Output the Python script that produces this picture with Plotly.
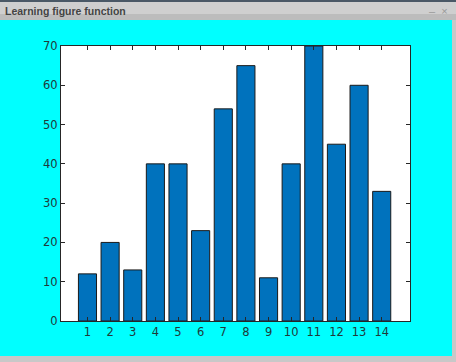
import plotly.graph_objects as go

categories = list(range(1, 15))
values = [12, 20, 13, 40, 40, 23, 54, 65, 11, 40, 70, 45, 60, 33]
y_ticks = [0, 10, 20, 30, 40, 50, 60, 70]
window_title = "Learning figure function"

W, H = 456, 362
L, R, T, B = 61, 410, 46, 321

def px(x):
    return (x - L) / (R - L)

def py(y):
    return (B - y) / (B - T)

fig = go.Figure()
fig.add_trace(go.Bar(
    x=categories, y=values, width=0.8,
    marker=dict(color="#0072BD", line=dict(color="#1a1a1a", width=1)),
))

axis_common = dict(
    showgrid=False, zeroline=False, showline=True, linecolor="#262626", linewidth=1,
    mirror="allticks", ticks="inside", ticklen=4, tickcolor="#262626",
    tickfont=dict(family="DejaVu Sans", size=11.5, color="#1f3a3a"),
)
fig.update_xaxes(range=[-0.17, 15.25], tickmode="array", tickvals=categories,
                 ticktext=[str(c) for c in categories], **axis_common)
fig.update_yaxes(range=[0, 70], tickmode="array", tickvals=y_ticks,
                 ticktext=[str(v) for v in y_ticks], **axis_common)

shapes = [
    # title bar
    dict(type="rect", xref="paper", yref="paper", x0=px(-5), x1=px(W + 5), y0=py(20), y1=py(-5),
         fillcolor="#bcbcbc", line=dict(width=0), layer="above"),
    dict(type="rect", xref="paper", yref="paper", x0=px(-5), x1=px(W + 5), y0=py(14), y1=py(2),
         fillcolor="#cfcfcf", line=dict(width=0), layer="above"),
    dict(type="rect", xref="paper", yref="paper", x0=px(-5), x1=px(W + 5), y0=py(2), y1=py(-5),
         fillcolor="#4a5866", line=dict(width=0), layer="above"),
    # right border
    dict(type="rect", xref="paper", yref="paper", x0=px(452), x1=px(W + 5), y0=py(H + 5), y1=py(20),
         fillcolor="#c8c8c8", line=dict(width=0), layer="above"),
    # bottom border
    dict(type="rect", xref="paper", yref="paper", x0=px(-5), x1=px(W + 5), y0=py(H + 5), y1=py(356),
         fillcolor="#c8c8c8", line=dict(width=0), layer="above"),
]

annotations = [
    dict(text="<b>" + window_title + "</b>", xref="paper", yref="paper", x=px(3), y=py(11),
         xanchor="left", yanchor="middle", showarrow=False,
         font=dict(family="Liberation Sans", size=10.5, color="#444444")),
    dict(text="–  ×", xref="paper", yref="paper", x=px(450), y=py(11),
         xanchor="right", yanchor="middle", showarrow=False,
         font=dict(family="Liberation Sans", size=11, color="#9a9a9a")),
]

fig.update_layout(
    width=W, height=H, autosize=False,
    margin=dict(l=L, r=W - R, t=T, b=H - B, pad=0),
    paper_bgcolor="#00FFFF", plot_bgcolor="#FFFFFF",
    showlegend=False, shapes=shapes, annotations=annotations,
    bargap=0.2,
)

fig.write_html("out.html", config={"displayModeBar": False})
